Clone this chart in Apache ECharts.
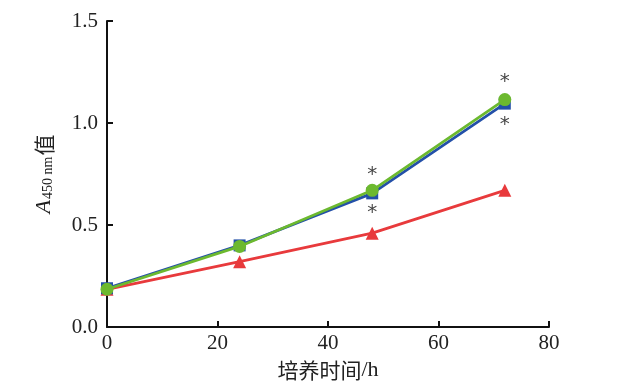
<!DOCTYPE html>
<html><head><meta charset="utf-8">
<script src="https://cdn.jsdelivr.net/npm/echarts@6/dist/echarts.min.js"></script>
<style>html,body{margin:0;padding:0;background:#fff}#c{width:623px;height:384px}</style>
</head><body><div id="c"></div>
<script>
const hours = [0, 24, 48, 72];
const blueVals = [0.19, 0.40, 0.655, 1.095];
const greenVals = [0.185, 0.395, 0.67, 1.115];
const redVals = [0.185, 0.32, 0.46, 0.67];
const starMarks = [[48, 0.745], [48, 0.56], [72, 1.2], [72, 0.99]];
const xTicks = [0, 20, 40, 60, 80];
const yTicks = [0, 0.5, 1.0, 1.5];

const serif = '"Liberation Serif","DejaVu Serif",serif';
const cjk = '"Noto Sans CJK SC",' + serif;
const pair = v => hours.map((h, i) => [h, v[i]]);

const chart = echarts.init(document.getElementById('c'));
chart.setOption({
  animation: false,
  grid: {left: 107, right: 74, top: 21, bottom: 57, outerBoundsMode: 'none', containLabel: false},
  xAxis: {
    type: 'value', min: 0, max: 80, interval: 20,
    axisLine: {lineStyle: {color: '#111', width: 2}},
    axisTick: {inside: true, length: 6, lineStyle: {color: '#111', width: 2}},
    axisLabel: {color: '#222', fontFamily: serif, fontSize: 21, margin: 6,
      formatter: v => xTicks.includes(v) ? String(v) : ''},
    splitLine: {show: false},
    name: '{c|培养时间}{h|/h}', nameLocation: 'middle', nameGap: 32,
    nameTextStyle: {
      color: '#222',
      rich: {
        c: {fontFamily: cjk, fontSize: 21, color: '#222'},
        h: {fontFamily: serif, fontSize: 22, color: '#222'}
      }
    }
  },
  yAxis: {
    type: 'value', min: 0, max: 1.5, interval: 0.5,
    axisLine: {show: true, lineStyle: {color: '#111', width: 2}},
    axisTick: {show: true, inside: true, length: 6, lineStyle: {color: '#111', width: 2}},
    axisLabel: {color: '#222', fontFamily: serif, fontSize: 21, margin: 9,
      formatter: v => yTicks.some(t => Math.abs(t - v) < 1e-9) ? v.toFixed(1) : ''},
    splitLine: {show: false},
    name: '{i|A}{s|450 nm}{n|值}', nameLocation: 'middle', nameGap: 52, nameRotate: 90,
    nameTextStyle: {
      color: '#222',
      rich: {
        i: {fontFamily: serif, fontStyle: 'italic', fontSize: 22, color: '#222', verticalAlign: 'bottom', lineHeight: 24},
        s: {fontFamily: serif, fontSize: 14, color: '#222', verticalAlign: 'bottom', lineHeight: 20, padding: [0, 1, 0, 1]},
        n: {fontFamily: cjk, fontSize: 21, color: '#222', verticalAlign: 'bottom', lineHeight: 24}
      }
    }
  },
  series: [
    {type: 'line', data: pair(redVals), symbol: 'triangle', symbolSize: 13,
     lineStyle: {color: '#e83a3c', width: 2.8}, itemStyle: {color: '#e83a3c'}, z: 2},
    {type: 'line', data: pair(blueVals), symbol: 'rect', symbolSize: 12,
     lineStyle: {color: '#2350a8', width: 2.8}, itemStyle: {color: '#2350a8'}, z: 3},
    {type: 'line', data: pair(greenVals), symbol: 'circle', symbolSize: 13,
     lineStyle: {color: '#6cb92f', width: 2.8}, itemStyle: {color: '#6cb92f'}, z: 4},
    {type: 'scatter', data: starMarks, symbolSize: 1, itemStyle: {color: 'rgba(0,0,0,0)'},
     label: {show: true, position: 'inside', formatter: '*', color: '#111',
       fontFamily: '"DejaVu Sans",sans-serif', fontSize: 20}, z: 5}
  ]
});
</script></body></html>
